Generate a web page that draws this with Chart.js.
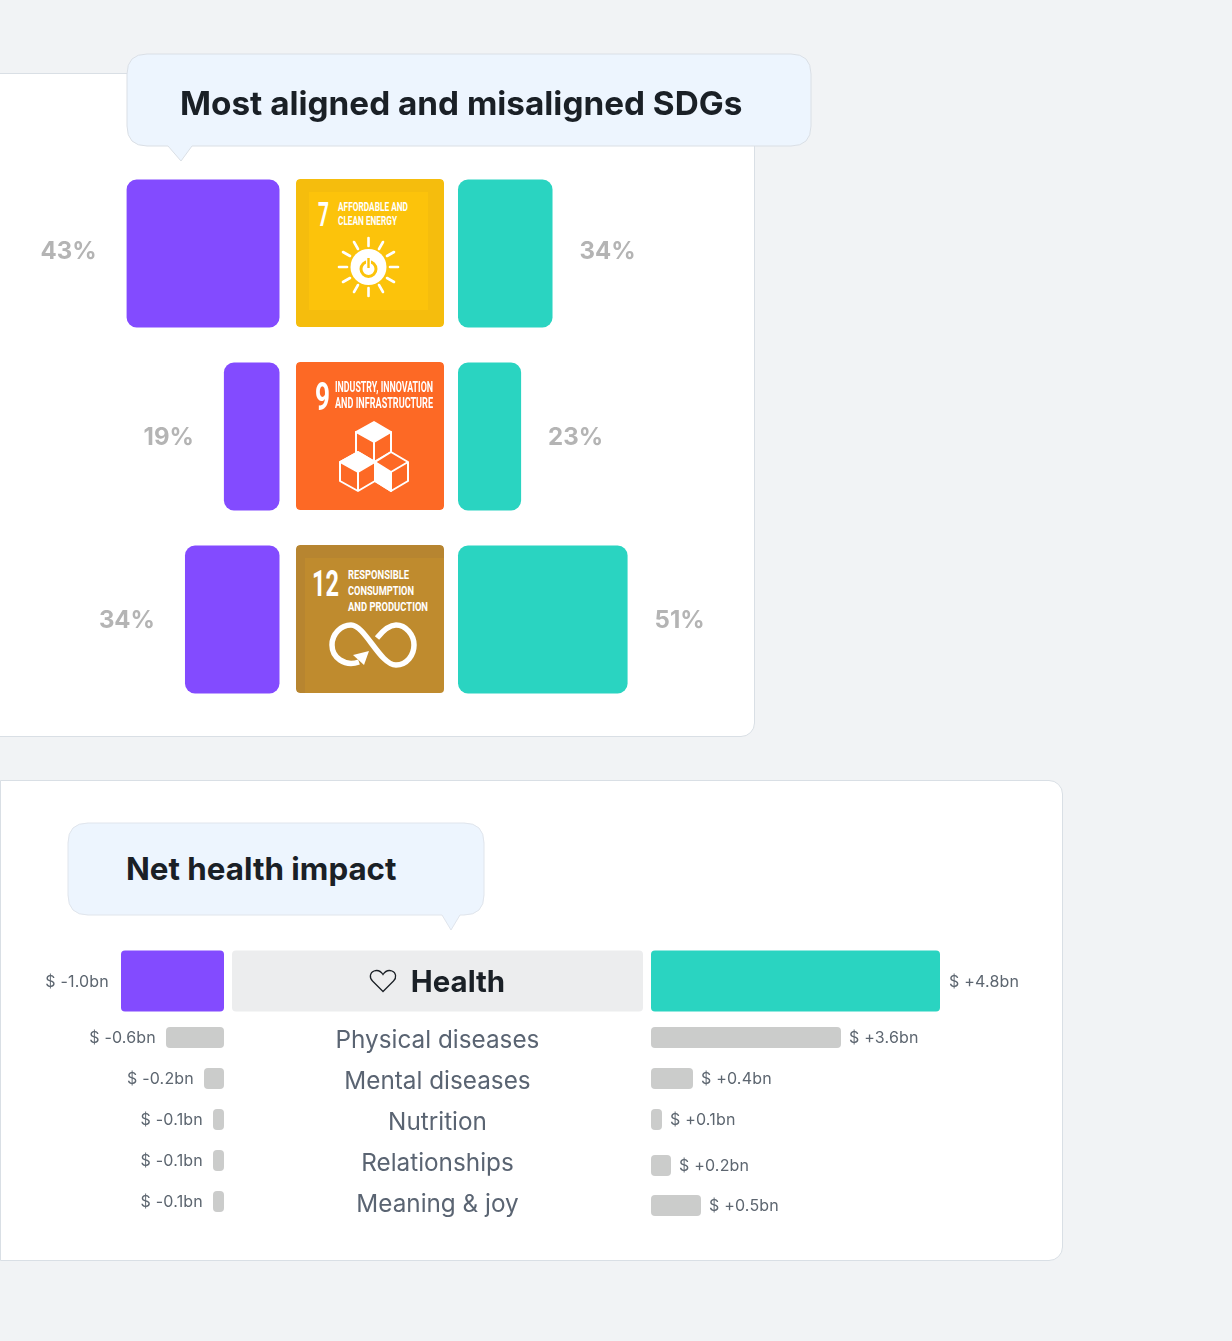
<!DOCTYPE html>
<html>
<head>
<meta charset="utf-8">
<title>Most aligned and misaligned SDGs</title>
<script src="https://cdn.jsdelivr.net/npm/chart.js@4"></script>
<style>
    html, body { margin: 0; padding: 0; background: #f1f3f5; }
    body { position: relative; width: 1232px; height: 1341px; overflow: hidden; font-family: Inter, sans-serif; }
    .card { position: absolute; background: #fff; border: 1px solid #d9dfe5; box-sizing: border-box; }
    #cardSdg { left: -20px; top: 73px; width: 775px; height: 664px; border-radius: 14px; }
    #cardHealth { left: 0; top: 780px; width: 1063px; height: 481px; border-radius: 0 14px 14px 0; }
    canvas { position: absolute; }
    .bubble { position: absolute; overflow: visible; }
    .bubbleTitle { position: absolute; font-weight: 700; color: #1a2026; white-space: nowrap; }
    .icon { position: absolute; border-radius: 4px; }
    .icon text { font-family: "Liberation Sans Narrow", Roboto, sans-serif; font-weight: 700; fill: #fff; }
</style>
</head>
<body>
<div class="card" id="cardSdg"></div>
<div class="card" id="cardHealth"></div>

<canvas id="chartSdg" style="left:0;top:162px"></canvas>
<canvas id="chartHealth" style="left:0;top:945px"></canvas>
<canvas id="chartRows" style="left:0;top:1017px"></canvas>

<svg class="bubble" style="left:0;top:0" width="1232" height="170">
    <path d="M147,54 H791 Q811,54 811,74 V126 Q811,146 791,146 H192 L181,161 L168,146 H147 Q127,146 127,126 V74 Q127,54 147,54 Z" fill="#edf5fe" stroke="#dadfe5"/>
</svg>
<div class="bubbleTitle" style="left:180px;top:82px;font-size:33.3px;line-height:42px">Most aligned and misaligned SDGs</div>

<svg class="bubble" style="left:0;top:815px" width="600" height="120">
    <path d="M88,8 H464 Q484,8 484,28 V80 Q484,100 464,100 H460 L451,115 L442,100 H88 Q68,100 68,80 V28 Q68,8 88,8 Z" fill="#edf5fe" stroke="#e0e5ec"/>
</svg>
<div class="bubbleTitle" style="left:126px;top:849px;font-size:31.3px;line-height:40px">Net health impact</div>

<svg class="bubble" style="left:368px;top:968px" width="30" height="26" viewBox="0 0 30 26">
    <path d="M15,23.5 L4.5,13 C1,9.5 2,4.5 6,3 C10,1.6 13,3.5 15,6.5 C17,3.5 20,1.6 24,3 C28,4.5 29,9.5 25.5,13 Z" fill="none" stroke="#1a2026" stroke-width="1.3"/>
</svg>

<!-- Iconos de los ODS -->
<svg class="icon" style="left:296px;top:179px" width="148" height="148" viewBox="0 0 148 148">
    <rect width="148" height="148" rx="4" fill="#f5bd0d"/>
    <rect x="13" y="13" width="119" height="118" fill="#fcc30b"/>
    <text x="22" y="47" font-size="34" textLength="11" lengthAdjust="spacingAndGlyphs">7</text>
    <text x="42" y="32" font-size="12" textLength="70" lengthAdjust="spacingAndGlyphs">AFFORDABLE AND</text>
    <text x="42" y="46" font-size="12" textLength="59" lengthAdjust="spacingAndGlyphs">CLEAN ENERGY</text>
    <g stroke="#fff" stroke-width="2.6" stroke-linecap="round">
        <line x1="72.5" y1="59" x2="72.5" y2="67"/><line x1="72.5" y1="109" x2="72.5" y2="117"/>
        <line x1="43" y1="88" x2="51" y2="88"/><line x1="94" y1="88" x2="102" y2="88"/>
        <line x1="58" y1="63" x2="62" y2="70"/><line x1="83" y1="106" x2="87" y2="113"/>
        <line x1="87" y1="63" x2="83" y2="70"/><line x1="62" y1="106" x2="58" y2="113"/>
        <line x1="47" y1="73" x2="54" y2="77"/><line x1="91" y1="99" x2="98" y2="103"/>
        <line x1="98" y1="73" x2="91" y2="77"/><line x1="54" y1="99" x2="47" y2="103"/>
    </g>
    <circle cx="72.5" cy="88" r="18" fill="#fff"/>
    <circle cx="72.5" cy="90" r="7.5" fill="none" stroke="#fcc30b" stroke-width="3"/>
    <line x1="72.5" y1="79" x2="72.5" y2="90" stroke="#fff" stroke-width="5"/>
    <line x1="72.5" y1="79" x2="72.5" y2="89" stroke="#fcc30b" stroke-width="2.4"/>
</svg>

<svg class="icon" style="left:296px;top:362px" width="148" height="148" viewBox="0 0 148 148">
    <rect width="148" height="148" rx="4" fill="#fd6925"/>
    <text x="19" y="48" font-size="38" textLength="15" lengthAdjust="spacingAndGlyphs">9</text>
    <text x="39" y="30" font-size="14" textLength="98" lengthAdjust="spacingAndGlyphs">INDUSTRY, INNOVATION</text>
    <text x="39" y="46" font-size="14" textLength="98" lengthAdjust="spacingAndGlyphs">AND INFRASTRUCTURE</text>
    <g fill="none" stroke="#fff" stroke-width="2" stroke-linejoin="round">
        <path d="M78,60 L95,70 L95,90 L78,100 L60,90 L60,70 Z" fill="#fff"/>
        <path d="M60,70 L78,80 L95,70 L95,90 L78,100 L60,90 Z" fill="#fd6925"/>
        <path d="M78,80 V100"/>
        <path d="M62,90 L79,100 L79,119 L62,129 L44,119 L44,100 Z" fill="#fd6925"/>
        <path d="M62,90 L79,100 L62,110 L44,100 Z" fill="#fff"/>
        <path d="M62,110 V129"/>
        <path d="M95,90 L112,100 L112,119 L95,129 L79,119 L79,100 Z" fill="#fd6925"/>
        <path d="M79,100 L95,110 L95,129 L79,119 Z" fill="#fff"/>
        <path d="M95,110 L112,100"/>
    </g>
</svg>

<svg class="icon" style="left:296px;top:545px" width="148" height="148" viewBox="0 0 148 148">
    <rect width="148" height="148" rx="4" fill="#b78530"/>
    <rect x="9" y="13" width="139" height="135" fill="#bf8b2e"/>
    <text x="16" y="51" font-size="36" textLength="27" lengthAdjust="spacingAndGlyphs">12</text>
    <text x="52" y="34" font-size="13.5" textLength="61" lengthAdjust="spacingAndGlyphs">RESPONSIBLE</text>
    <text x="52" y="50" font-size="13.5" textLength="66" lengthAdjust="spacingAndGlyphs">CONSUMPTION</text>
    <text x="52" y="66" font-size="13.5" textLength="80" lengthAdjust="spacingAndGlyphs">AND PRODUCTION</text>
    <path d="M63,117 C48,122 36,112 36,100 C36,89 45,80 55,80 C69,80 84,120 100,120 C111,120 118,110 118,100 C118,90 110,80 100,80 C92,80 85,88 81,93" fill="none" stroke="#fff" stroke-width="5.5"/>
    <path d="M57,110 L73,106 L68,120 Z" fill="#fff"/>
</svg>

<script>
// Datos del panel de ODS
const sdgNames = ["Affordable and clean energy", "Industry, innovation and infrastructure", "Responsible consumption and production"];
const misalignedLabels = ["43%", "19%", "34%"];
const alignedLabels = ["34%", "23%", "51%"];
// Bar lengths as drawn in the picture, they do not always follow the printed %
const misalignedBars = [55, 20, 34];
const alignedBars = [34, 22.7, 61];

// Datos del panel de salud
const healthCategory = ["Health"];
const healthNegativeLabels = ["$ -1.0bn"];
const healthPositiveLabels = ["$ +4.8bn"];
const healthNegativeBars = [1.03];
const healthPositiveBars = [2.89];

const rowCategories = ["Physical diseases", "Mental diseases", "Nutrition", "Relationships", "Meaning & joy"];
const rowNegativeLabels = ["$ -0.6bn", "$ -0.2bn", "$ -0.1bn", "$ -0.1bn", "$ -0.1bn"];
const rowPositiveLabels = ["$ +3.6bn", "$ +0.4bn", "$ +0.1bn", "$ +0.2bn", "$ +0.5bn"];
const rowNegativeBars = [0.58, 0.20, 0.11, 0.11, 0.11];
const rowPositiveBars = [1.90, 0.42, 0.11, 0.20, 0.50];

const PURPLE = "#834bff";
const TEAL = "#2ad4c1";
const GREY = "#cbcccb";

Chart.defaults.animation = false;
Chart.defaults.font.family = "Inter, sans-serif";

// Text next to the outer end of each bar, and the category name in the middle
const barTexts = {
    id: "barTexts",
    afterDatasetsUpdate(chart, args, opts) {
        // a couple of rows on the right sit a bit lower in the picture
        const meta = chart.getDatasetMeta(1);
        Object.entries(opts.shift || {}).forEach(([i, dy]) => { meta.data[i].y += dy; });
    },
    afterDatasetsDraw(chart, args, opts) {
        const ctx = chart.ctx;
        ctx.save();
        ctx.textBaseline = "middle";
        chart.data.datasets.forEach((ds, d) => {
            if (!ds.endLabels) return;
            chart.getDatasetMeta(d).data.forEach((bar, i) => {
                const outer = ds.side < 0;
                ctx.font = opts.font;
                ctx.letterSpacing = opts.spacing || "0px";
                ctx.fillStyle = opts.color;
                ctx.textAlign = outer ? "right" : "left";
                const gap = outer ? opts.gapLeft : opts.gapRight;
                const dy = (opts.labelDy || 0) + ((opts.rowDy || {})[i] || 0);
                ctx.fillText(ds.endLabels[i], bar.x + (outer ? -gap : gap), bar.y + dy);
            });
        });
        if (opts.categoryFont) {
            ctx.font = opts.categoryFont;
            ctx.letterSpacing = "0px";
            ctx.fillStyle = opts.categoryColor;
            ctx.textAlign = "center";
            chart.data.labels.forEach((label, i) => {
                const x = chart.scales.x.getPixelForValue(0) + (opts.categoryDx || 0);
                ctx.fillText(label, x, chart.scales.y.getPixelForValue(i) + (opts.categoryDy || 0));
            });
        }
        ctx.restore();
    }
};

// Diverging bars around a centre gap, drawn as floating bars
function makeChart(id, width, height, centre, pxPerUnit, halfGap, cfg) {
    const canvas = document.getElementById(id);
    canvas.width = width;
    canvas.height = height;
    const gap = halfGap / pxPerUnit;
    const bar = (values, side, color, labels) => ({
        data: values.map(v => side < 0 ? [-gap - v, -gap] : [gap, gap + v]),
        backgroundColor: color,
        borderRadius: cfg.radius,
        borderSkipped: false,
        inflateAmount: 0,
        barThickness: cfg.thickness,
        grouped: false,
        side: side,
        endLabels: labels
    });
    const datasets = [
        bar(cfg.left, -1, cfg.leftColor, cfg.leftLabels),
        bar(cfg.right, 1, cfg.rightColor, cfg.rightLabels)
    ];
    if (cfg.band) {
        const half = cfg.band.half / pxPerUnit;
        datasets.push({
            data: [[-half, half]],
            backgroundColor: cfg.band.color,
            borderRadius: cfg.radius,
            borderSkipped: false,
            inflateAmount: 0,
            barThickness: cfg.thickness,
            grouped: false
        });
    }
    return new Chart(canvas, {
        type: "bar",
        data: { labels: cfg.labels, datasets: datasets },
        options: {
            indexAxis: "y",
            responsive: false,
            layout: { padding: 0 },
            plugins: {
                legend: { display: false },
                tooltip: { enabled: false },
                barTexts: cfg.texts
            },
            scales: {
                x: { type: "linear", display: false, min: -centre / pxPerUnit, max: (width - centre) / pxPerUnit },
                y: { type: "category", display: false }
            }
        },
        plugins: [barTexts]
    });
}

makeChart("chartSdg", 754, 549, 368.75, 2.78, 89.25, {
    labels: sdgNames,
    left: misalignedBars,
    right: alignedBars,
    leftLabels: misalignedLabels,
    rightLabels: alignedLabels,
    leftColor: PURPLE,
    rightColor: TEAL,
    thickness: 148,
    radius: 10,
    texts: { font: "700 24px Inter, sans-serif", color: "#b4b4b4", gapLeft: 30, gapRight: 27, labelDy: 1, rowDy: { 0: -3 } }
});

// Health row: the grey band is a bar as well, with the name on top
makeChart("chartHealth", 1062, 72, 437.5, 100, 213.5, {
    labels: healthCategory,
    left: healthNegativeBars,
    right: healthPositiveBars,
    leftLabels: healthNegativeLabels,
    rightLabels: healthPositiveLabels,
    leftColor: PURPLE,
    rightColor: TEAL,
    thickness: 61,
    radius: 4,
    band: { half: 205.5, color: "#ecedee" },
    texts: {
        font: "400 16px Inter, sans-serif", spacing: "0.2px", color: "#5d6670", gapLeft: 12, gapRight: 9, labelDy: 1,
        categoryFont: "700 29.4px Inter, sans-serif", categoryColor: "#1a2026", categoryDx: 20.5, categoryDy: 2.5
    }
});

makeChart("chartRows", 1062, 205, 437.5, 100, 213.5, {
    labels: rowCategories,
    left: rowNegativeBars,
    right: rowPositiveBars,
    leftLabels: rowNegativeLabels,
    rightLabels: rowPositiveLabels,
    leftColor: GREY,
    rightColor: GREY,
    thickness: 21,
    radius: 4,
    texts: {
        font: "400 16px Inter, sans-serif", spacing: "0.2px", color: "#5d6670", gapLeft: 10, gapRight: 8, labelDy: 1,
        categoryFont: "400 24.3px Inter, sans-serif", categoryColor: "#5a6472", categoryDy: 3,
        shift: { 3: 5, 4: 4 }
    }
});
</script>
</body>
</html>
